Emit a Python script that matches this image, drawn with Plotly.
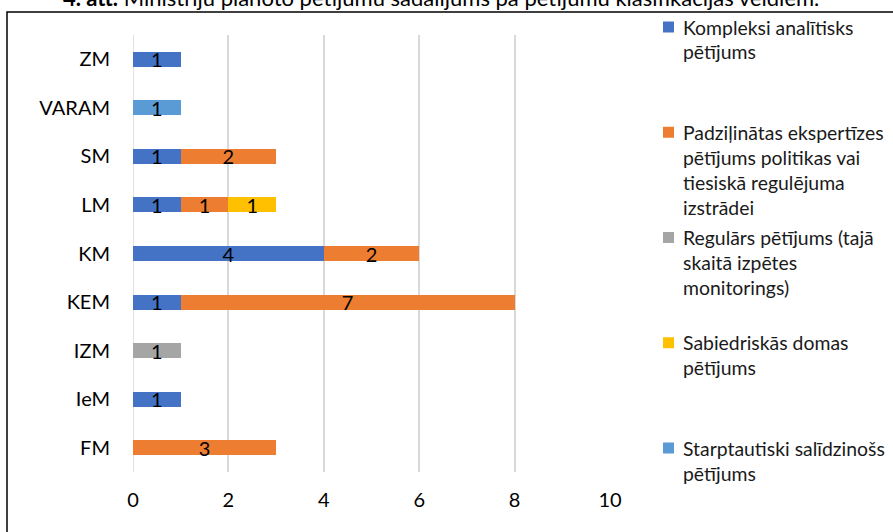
import plotly.graph_objects as go

# ---- data ----
categories = ["FM", "IeM", "IZM", "KEM", "KM", "LM", "SM", "VARAM", "ZM"]
series_names = [
    "Kompleksi analītisks\npētījums",
    "Padziļinātas ekspertīzes\npētījums politikas vai\ntiesiskā regulējuma\nizstrādei",
    "Regulārs pētījums (tajā\nskaitā izpētes\nmonitorings)",
    "Sabiedriskās domas\npētījums",
    "Starptautiski salīdzinošs\npētījums",
]
kompleksi = [None, 1, None, 1, 4, 1, 1, None, 1]
padzilinatas = [3, None, None, 7, 2, 1, 2, None, None]
regulars = [None, None, 1, None, None, None, None, None, None]
sabiedriskas = [None, None, None, None, None, 1, None, None, None]
starptautiski = [None, None, None, None, None, None, None, 1, None]
series_values = [kompleksi, padzilinatas, regulars, sabiedriskas, starptautiski]
colors = ["#4472C4", "#ED7D31", "#A5A5A5", "#FFC000", "#5B9BD5"]
x_ticks = [0, 2, 4, 6, 8, 10]
title_text = "<b>4. att.</b> Ministriju plānoto pētījumu sadalījums pa pētījumu klasifikācijas veidiem."

FONT = "Lato"
W, H = 893, 532
L, R, T, B = 133, 610, 35, 472  # plot area in pixels


def px2x(p):
    return (p - L) / (R - L)


def py2y(p):
    return (B - p) / (B - T)


fig = go.Figure()
for name, vals, col in zip(series_names, series_values, colors):
    fig.add_trace(go.Bar(
        y=categories, x=vals, orientation="h", name=name.replace("\n", " "),
        marker=dict(color=col, line=dict(width=0)),
        texttemplate="%{x}", textposition="inside", insidetextanchor="middle",
        textangle=0, textfont=dict(color="black", size=20, family=FONT),
        cliponaxis=False, showlegend=False,
    ))

annotations = []
shapes = []
# manual legend (Excel-style, evenly spaced entries)
for i, (name, col) in enumerate(zip(series_names, colors)):
    y0 = 27 + 105.25 * i
    shapes.append(dict(type="rect", xref="paper", yref="paper",
                       x0=px2x(663), x1=px2x(674), y0=py2y(y0 + 5.5), y1=py2y(y0 - 5.5),
                       fillcolor=col, line=dict(width=0)))
    for j, line in enumerate(name.split("\n")):
        annotations.append(dict(text=line, xref="paper", yref="paper",
                                x=px2x(681), y=py2y(y0 + 25 * j), xanchor="left", yanchor="middle",
                                showarrow=False, font=dict(size=19.4, family=FONT, color="#1a1a1a")))

# title (partly cut at the top of the picture, as in the original)
annotations.append(dict(text=title_text, xref="paper", yref="paper",
                        x=px2x(441), y=py2y(-2), xanchor="center", yanchor="middle",
                        showarrow=False, font=dict(size=22, family=FONT, color="black")))

# outer chart border
shapes.append(dict(type="rect", xref="paper", yref="paper",
                   x0=px2x(7), x1=px2x(905), y0=py2y(545), y1=py2y(12),
                   line=dict(color="black", width=1.5), fillcolor="rgba(0,0,0,0)", layer="below"))

fig.update_layout(
    barmode="stack", bargap=0.69,
    width=W, height=H, autosize=False,
    margin=dict(l=L, r=W - R, t=T, b=H - B, pad=0),
    paper_bgcolor="white", plot_bgcolor="white",
    font=dict(family=FONT, size=20, color="black"),
    uniformtext=dict(minsize=20, mode="show"),
    annotations=annotations, shapes=shapes,
    xaxis=dict(range=[0, 10], tickvals=x_ticks, showgrid=True, gridcolor="#D9D9D9", gridwidth=1.5,
               zeroline=False, showline=False, ticks="", ticklabelstandoff=14,
               tickfont=dict(size=20, family=FONT, color="black"), fixedrange=True),
    yaxis=dict(type="category", categoryorder="array", categoryarray=categories,
               showgrid=False, zeroline=False, showline=False, ticks="", ticklabelstandoff=22,
               tickfont=dict(size=20, family=FONT, color="black"), fixedrange=True),
    showlegend=False,
)
fig.add_vline(x=0, line=dict(color="#D9D9D9", width=1.5), layer="below")

fig.write_html("out.html", config={"displayModeBar": False},
               post_script="document.body.style.margin='0';document.body.style.overflow='hidden';")
